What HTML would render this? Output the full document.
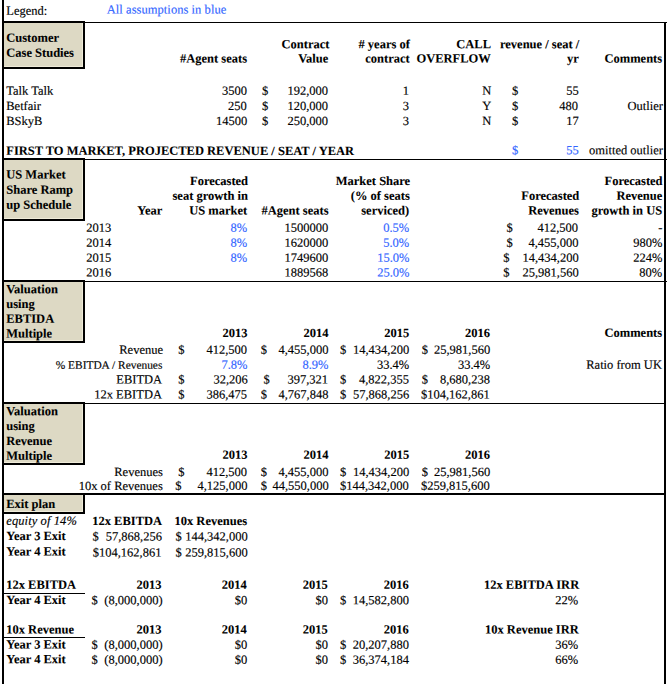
<!DOCTYPE html>
<html><head><meta charset="utf-8"><title>Valuation model</title>
<style>
html,body{margin:0;padding:0;background:#fff;}
body{width:667px;height:684px;position:relative;overflow:hidden;font-family:"Liberation Serif",serif;font-size:12.5px;line-height:15px;color:#000;}
.r{position:absolute;}
.t{position:absolute;white-space:pre;transform-origin:0 0;-webkit-text-stroke:0.15px currentColor;}
.b{font-weight:bold;-webkit-text-stroke-width:0.08px;}
.i{font-style:italic;}
.u{color:#3366ff;}
</style></head><body>
<div class="r" style="left:4px;top:23px;width:79px;height:44px;background:#ddd9c4"></div>
<div class="r" style="left:82px;top:23px;width:1px;height:44px;background:#efebd9"></div>
<div class="r" style="left:4px;top:66px;width:79px;height:1px;background:#efebd9"></div>
<div class="r" style="left:2px;top:21px;width:83px;height:2px;background:#000"></div>
<div class="r" style="left:2px;top:67px;width:83px;height:2px;background:#000"></div>
<div class="r" style="left:83px;top:21px;width:2px;height:48px;background:#000"></div>
<div class="r" style="left:4px;top:160px;width:79px;height:59px;background:#ddd9c4"></div>
<div class="r" style="left:82px;top:160px;width:1px;height:59px;background:#efebd9"></div>
<div class="r" style="left:4px;top:218px;width:79px;height:1px;background:#efebd9"></div>
<div class="r" style="left:2px;top:158px;width:83px;height:2px;background:#000"></div>
<div class="r" style="left:2px;top:219px;width:83px;height:2px;background:#000"></div>
<div class="r" style="left:83px;top:158px;width:2px;height:63px;background:#000"></div>
<div class="r" style="left:4px;top:282px;width:79px;height:59px;background:#ddd9c4"></div>
<div class="r" style="left:82px;top:282px;width:1px;height:59px;background:#efebd9"></div>
<div class="r" style="left:4px;top:340px;width:79px;height:1px;background:#efebd9"></div>
<div class="r" style="left:2px;top:280px;width:83px;height:2px;background:#000"></div>
<div class="r" style="left:2px;top:341px;width:83px;height:2px;background:#000"></div>
<div class="r" style="left:83px;top:280px;width:2px;height:63px;background:#000"></div>
<div class="r" style="left:4px;top:404px;width:79px;height:59px;background:#ddd9c4"></div>
<div class="r" style="left:82px;top:404px;width:1px;height:59px;background:#efebd9"></div>
<div class="r" style="left:4px;top:462px;width:79px;height:1px;background:#efebd9"></div>
<div class="r" style="left:2px;top:402px;width:83px;height:2px;background:#000"></div>
<div class="r" style="left:2px;top:463px;width:83px;height:2px;background:#000"></div>
<div class="r" style="left:83px;top:402px;width:2px;height:63px;background:#000"></div>
<div class="r" style="left:4px;top:495px;width:79px;height:17px;background:#ddd9c4"></div>
<div class="r" style="left:82px;top:495px;width:1px;height:17px;background:#efebd9"></div>
<div class="r" style="left:4px;top:511px;width:79px;height:1px;background:#efebd9"></div>
<div class="r" style="left:2px;top:493px;width:83px;height:2px;background:#000"></div>
<div class="r" style="left:2px;top:512px;width:83px;height:2px;background:#000"></div>
<div class="r" style="left:83px;top:493px;width:2px;height:21px;background:#000"></div>
<div class="r" style="left:2px;top:0px;width:2px;height:684px;background:#000"></div>
<div class="r" style="left:664px;top:22px;width:2px;height:662px;background:#000"></div>
<div class="r" style="left:2px;top:22px;width:665px;height:1px;background:#000"></div>
<div class="r" style="left:2px;top:159px;width:665px;height:1px;background:#000"></div>
<div class="r" style="left:2px;top:281px;width:665px;height:1px;background:#000"></div>
<div class="r" style="left:2px;top:403px;width:662px;height:1px;background:#000"></div>
<div class="r" style="left:2px;top:493px;width:664px;height:2px;background:#000"></div>
<div class="r" style="left:4px;top:593px;width:81px;height:1px;background:#000"></div>
<div class="r" style="left:4px;top:637px;width:81px;height:1px;background:#000"></div>
<div class="t" style="left:6px;top:3px;transform:translate(0.25px,0.75px) rotate(0.03deg);">Legend:</div>
<div class="t u" style="left:106px;top:2px;transform:translate(0.75px,0.5px) rotate(0.03deg);letter-spacing:0.05px;">All assumptions in blue</div>
<div class="t b" style="left:6px;top:30px;transform:translate(0.25px,0.75px) rotate(0.03deg);">Customer</div>
<div class="t b" style="left:6px;top:45px;transform:translate(0.25px,0.75px) rotate(0.03deg);">Case Studies</div>
<div class="t b" style="right:420px;top:51px;transform-origin:100% 0;transform:translate(0.0px,0.5px) rotate(0.03deg);">#Agent seats</div>
<div class="t b" style="right:338px;top:37px;transform-origin:100% 0;transform:translate(0.5px,0.25px) rotate(0.03deg);">Contract</div>
<div class="t b" style="right:339px;top:51px;transform-origin:100% 0;transform:translate(0.25px,0.5px) rotate(0.03deg);">Value</div>
<div class="t b" style="right:258px;top:37px;transform-origin:100% 0;transform:translate(0.5px,0.25px) rotate(0.03deg);"># years of</div>
<div class="t b" style="right:258px;top:51px;transform-origin:100% 0;transform:translate(0.25px,0.5px) rotate(0.03deg);">contract</div>
<div class="t b" style="right:176px;top:37px;transform-origin:100% 0;transform:translate(0.25px,0.25px) rotate(0.03deg);">CALL</div>
<div class="t b" style="right:177px;top:51px;transform-origin:100% 0;transform:translate(0.5px,0.5px) rotate(0.03deg);">OVERFLOW</div>
<div class="t b" style="right:88px;top:37px;transform-origin:100% 0;transform:translate(0.0px,0.25px) rotate(0.03deg);">revenue / seat /</div>
<div class="t b" style="right:88px;top:51px;transform-origin:100% 0;transform:translate(0.0px,0.5px) rotate(0.03deg);">yr</div>
<div class="t b" style="right:5px;top:51px;transform-origin:100% 0;transform:translate(0.5px,0.5px) rotate(0.03deg);">Comments</div>
<div class="t" style="left:6px;top:83px;transform:translate(0.25px,0.75px) rotate(0.03deg);">Talk Talk</div>
<div class="t" style="right:420px;top:83px;transform-origin:100% 0;transform:translate(0.0px,0.75px) rotate(0.03deg);">3500</div>
<div class="t" style="left:262px;top:83px;transform:translate(0.0px,0.75px) rotate(0.03deg);">$</div>
<div class="t" style="right:339px;top:83px;transform-origin:100% 0;transform:translate(0.5px,0.75px) rotate(0.03deg);">192,000</div>
<div class="t" style="right:259px;top:83px;transform-origin:100% 0;transform:translate(0.75px,0.75px) rotate(0.03deg);">1</div>
<div class="t" style="right:176px;top:83px;transform-origin:100% 0;transform:translate(0.25px,0.75px) rotate(0.03deg);">N</div>
<div class="t" style="left:512px;top:83px;transform:translate(0.0px,0.75px) rotate(0.03deg);">$</div>
<div class="t" style="right:89px;top:83px;transform-origin:100% 0;transform:translate(0.25px,0.75px) rotate(0.03deg);">55</div>
<div class="t" style="left:6px;top:98px;transform:translate(0.25px,1.0px) rotate(0.03deg);">Betfair</div>
<div class="t" style="right:420px;top:98px;transform-origin:100% 0;transform:translate(0.0px,1.0px) rotate(0.03deg);">250</div>
<div class="t" style="left:262px;top:98px;transform:translate(0.0px,1.0px) rotate(0.03deg);">$</div>
<div class="t" style="right:339px;top:98px;transform-origin:100% 0;transform:translate(0.5px,1.0px) rotate(0.03deg);">120,000</div>
<div class="t" style="right:259px;top:98px;transform-origin:100% 0;transform:translate(0.75px,1.0px) rotate(0.03deg);">3</div>
<div class="t" style="right:176px;top:98px;transform-origin:100% 0;transform:translate(0.25px,1.0px) rotate(0.03deg);">Y</div>
<div class="t" style="left:512px;top:98px;transform:translate(0.0px,1.0px) rotate(0.03deg);">$</div>
<div class="t" style="right:89px;top:98px;transform-origin:100% 0;transform:translate(0.25px,1.0px) rotate(0.03deg);">480</div>
<div class="t" style="left:6px;top:113px;transform:translate(0.25px,1.0px) rotate(0.03deg);">BSkyB</div>
<div class="t" style="right:420px;top:113px;transform-origin:100% 0;transform:translate(0.0px,1.0px) rotate(0.03deg);">14500</div>
<div class="t" style="left:262px;top:113px;transform:translate(0.0px,1.0px) rotate(0.03deg);">$</div>
<div class="t" style="right:339px;top:113px;transform-origin:100% 0;transform:translate(0.5px,1.0px) rotate(0.03deg);">250,000</div>
<div class="t" style="right:259px;top:113px;transform-origin:100% 0;transform:translate(0.75px,1.0px) rotate(0.03deg);">3</div>
<div class="t" style="right:176px;top:113px;transform-origin:100% 0;transform:translate(0.25px,1.0px) rotate(0.03deg);">N</div>
<div class="t" style="left:512px;top:113px;transform:translate(0.0px,1.0px) rotate(0.03deg);">$</div>
<div class="t" style="right:89px;top:113px;transform-origin:100% 0;transform:translate(0.25px,1.0px) rotate(0.03deg);">17</div>
<div class="t" style="right:5px;top:98px;transform-origin:100% 0;transform:translate(0.5px,1.0px) rotate(0.03deg);">Outlier</div>
<div class="t b" style="left:6px;top:143px;transform:translate(0.25px,0.75px) rotate(0.03deg);">FIRST TO MARKET, PROJECTED REVENUE / SEAT / YEAR</div>
<div class="t u" style="left:512px;top:143px;transform:translate(0.0px,0.25px) rotate(0.03deg);">$</div>
<div class="t u" style="right:89px;top:143px;transform-origin:100% 0;transform:translate(0.25px,0.25px) rotate(0.03deg);">55</div>
<div class="t" style="right:5px;top:143px;transform-origin:100% 0;transform:translate(1.0px,0.25px) rotate(0.03deg);">omitted outlier</div>
<div class="t b" style="left:6px;top:167px;transform:translate(0.25px,0.5px) rotate(0.03deg);">US Market</div>
<div class="t b" style="left:6px;top:182px;transform:translate(0.25px,0.75px) rotate(0.03deg);">Share Ramp</div>
<div class="t b" style="left:6px;top:197px;transform:translate(0.25px,0.75px) rotate(0.03deg);">up Schedule</div>
<div class="t b" style="right:505px;top:203px;transform-origin:100% 0;transform:translate(0.25px,0.5px) rotate(0.03deg);">Year</div>
<div class="t b" style="right:420px;top:173px;transform-origin:100% 0;transform:translate(1.0px,1.0px) rotate(0.03deg);">Forecasted</div>
<div class="t b" style="right:420px;top:188px;transform-origin:100% 0;transform:translate(0.5px,0.75px) rotate(0.03deg);">seat growth in</div>
<div class="t b" style="right:420px;top:203px;transform-origin:100% 0;transform:translate(0.25px,0.5px) rotate(0.03deg);">US market</div>
<div class="t b" style="right:339px;top:203px;transform-origin:100% 0;transform:translate(0.5px,0.5px) rotate(0.03deg);">#Agent seats</div>
<div class="t b" style="right:258px;top:173px;transform-origin:100% 0;transform:translate(0.75px,1.0px) rotate(0.03deg);">Market Share</div>
<div class="t b" style="right:258px;top:188px;transform-origin:100% 0;transform:translate(0.75px,0.75px) rotate(0.03deg);">(% of seats</div>
<div class="t b" style="right:258px;top:203px;transform-origin:100% 0;transform:translate(0.25px,0.5px) rotate(0.03deg);">serviced)</div>
<div class="t b" style="right:88px;top:188px;transform-origin:100% 0;transform:translate(0.25px,0.75px) rotate(0.03deg);">Forecasted</div>
<div class="t b" style="right:88px;top:203px;transform-origin:100% 0;transform:translate(0.25px,0.5px) rotate(0.03deg);">Revenues</div>
<div class="t b" style="right:5px;top:173px;transform-origin:100% 0;transform:translate(0.5px,1.0px) rotate(0.03deg);">Forecasted</div>
<div class="t b" style="right:5px;top:188px;transform-origin:100% 0;transform:translate(0.5px,0.75px) rotate(0.03deg);">Revenue</div>
<div class="t b" style="right:5px;top:203px;transform-origin:100% 0;transform:translate(0.5px,0.5px) rotate(0.03deg);">growth in US</div>
<div class="t" style="left:86px;top:220px;transform:translate(0.25px,0.75px) rotate(0.03deg);">2013</div>
<div class="t u" style="right:420px;top:220px;transform-origin:100% 0;transform:translate(0.5px,0.75px) rotate(0.03deg);">8%</div>
<div class="t" style="right:339px;top:220px;transform-origin:100% 0;transform:translate(0.5px,0.75px) rotate(0.03deg);">1500000</div>
<div class="t u" style="right:258px;top:220px;transform-origin:100% 0;transform:translate(0.25px,0.75px) rotate(0.03deg);">0.5%</div>
<div class="t" style="left:506px;top:220px;transform:translate(0.5px,0.75px) rotate(0.03deg);">$</div>
<div class="t" style="right:89px;top:220px;transform-origin:100% 0;transform:translate(0.5px,0.75px) rotate(0.03deg);">412,500</div>
<div class="t" style="right:5px;top:220px;transform-origin:100% 0;transform:translate(0.25px,0.75px) rotate(0.03deg);">-</div>
<div class="t" style="left:86px;top:235px;transform:translate(0.25px,0.75px) rotate(0.03deg);">2014</div>
<div class="t u" style="right:420px;top:235px;transform-origin:100% 0;transform:translate(0.5px,0.75px) rotate(0.03deg);">8%</div>
<div class="t" style="right:339px;top:235px;transform-origin:100% 0;transform:translate(0.5px,0.75px) rotate(0.03deg);">1620000</div>
<div class="t u" style="right:258px;top:235px;transform-origin:100% 0;transform:translate(0.25px,0.75px) rotate(0.03deg);">5.0%</div>
<div class="t" style="left:506px;top:235px;transform:translate(0.5px,0.75px) rotate(0.03deg);">$</div>
<div class="t" style="right:89px;top:235px;transform-origin:100% 0;transform:translate(0.5px,0.75px) rotate(0.03deg);">4,455,000</div>
<div class="t" style="right:5px;top:235px;transform-origin:100% 0;transform:translate(0.25px,0.75px) rotate(0.03deg);">980%</div>
<div class="t" style="left:86px;top:250px;transform:translate(0.25px,0.75px) rotate(0.03deg);">2015</div>
<div class="t u" style="right:420px;top:250px;transform-origin:100% 0;transform:translate(0.5px,0.75px) rotate(0.03deg);">8%</div>
<div class="t" style="right:339px;top:250px;transform-origin:100% 0;transform:translate(0.5px,0.75px) rotate(0.03deg);">1749600</div>
<div class="t u" style="right:258px;top:250px;transform-origin:100% 0;transform:translate(0.25px,0.75px) rotate(0.03deg);">15.0%</div>
<div class="t" style="left:503px;top:250px;transform:translate(0.25px,0.75px) rotate(0.03deg);">$</div>
<div class="t" style="right:89px;top:250px;transform-origin:100% 0;transform:translate(0.5px,0.75px) rotate(0.03deg);">14,434,200</div>
<div class="t" style="right:5px;top:250px;transform-origin:100% 0;transform:translate(0.25px,0.75px) rotate(0.03deg);">224%</div>
<div class="t" style="left:86px;top:265px;transform:translate(0.25px,0.5px) rotate(0.03deg);">2016</div>
<div class="t" style="right:339px;top:265px;transform-origin:100% 0;transform:translate(0.5px,0.5px) rotate(0.03deg);">1889568</div>
<div class="t u" style="right:258px;top:265px;transform-origin:100% 0;transform:translate(0.25px,0.5px) rotate(0.03deg);">25.0%</div>
<div class="t" style="left:503px;top:265px;transform:translate(0.25px,0.5px) rotate(0.03deg);">$</div>
<div class="t" style="right:89px;top:265px;transform-origin:100% 0;transform:translate(0.5px,0.5px) rotate(0.03deg);">25,981,560</div>
<div class="t" style="right:5px;top:265px;transform-origin:100% 0;transform:translate(0.25px,0.5px) rotate(0.03deg);">80%</div>
<div class="t b" style="left:6px;top:282px;transform:translate(0.25px,0.25px) rotate(0.03deg);">Valuation</div>
<div class="t b" style="left:6px;top:297px;transform:translate(0.25px,0.0px) rotate(0.03deg);">using</div>
<div class="t b" style="left:6px;top:311px;transform:translate(0.25px,0.75px) rotate(0.03deg);">EBTIDA</div>
<div class="t b" style="left:6px;top:326px;transform:translate(0.25px,0.5px) rotate(0.03deg);">Multiple</div>
<div class="t b" style="right:420px;top:325px;transform-origin:100% 0;transform:translate(0.5px,1.0px) rotate(0.03deg);">2013</div>
<div class="t b" style="right:339px;top:325px;transform-origin:100% 0;transform:translate(0.5px,1.0px) rotate(0.03deg);">2014</div>
<div class="t b" style="right:258px;top:325px;transform-origin:100% 0;transform:translate(0.25px,1.0px) rotate(0.03deg);">2015</div>
<div class="t b" style="right:178px;top:325px;transform-origin:100% 0;transform:translate(1.0px,1.0px) rotate(0.03deg);">2016</div>
<div class="t b" style="right:5px;top:325px;transform-origin:100% 0;transform:translate(0.5px,0.75px) rotate(0.03deg);">Comments</div>
<div class="t" style="right:504px;top:342px;transform-origin:100% 0;transform:translate(0.25px,0.75px) rotate(0.03deg);">Revenue</div>
<div class="t" style="left:178px;top:342px;transform:translate(0.25px,0.75px) rotate(0.03deg);">$</div>
<div class="t" style="right:420px;top:342px;transform-origin:100% 0;transform:translate(0.5px,0.75px) rotate(0.03deg);">412,500</div>
<div class="t" style="left:260px;top:342px;transform:translate(0.75px,0.75px) rotate(0.03deg);">$</div>
<div class="t" style="right:339px;top:342px;transform-origin:100% 0;transform:translate(0.5px,0.75px) rotate(0.03deg);">4,455,000</div>
<div class="t" style="left:340px;top:342px;transform:translate(0.0px,0.75px) rotate(0.03deg);">$</div>
<div class="t" style="right:258px;top:342px;transform-origin:100% 0;transform:translate(0.0px,0.75px) rotate(0.03deg);">14,434,200</div>
<div class="t" style="left:421px;top:342px;transform:translate(0.75px,0.75px) rotate(0.03deg);">$</div>
<div class="t" style="right:178px;top:342px;transform-origin:100% 0;transform:translate(1.0px,0.75px) rotate(0.03deg);">25,981,560</div>
<div class="t" style="right:505px;top:357px;transform-origin:100% 0;transform:translate(0.75px,0.75px) rotate(0.03deg);font-size:11.4px;">% EBITDA / Revenues</div>
<div class="t u" style="right:420px;top:357px;transform-origin:100% 0;transform:translate(0.5px,0.75px) rotate(0.03deg);">7.8%</div>
<div class="t u" style="right:339px;top:357px;transform-origin:100% 0;transform:translate(0.5px,0.75px) rotate(0.03deg);">8.9%</div>
<div class="t" style="right:258px;top:357px;transform-origin:100% 0;transform:translate(0.0px,0.75px) rotate(0.03deg);">33.4%</div>
<div class="t" style="right:178px;top:357px;transform-origin:100% 0;transform:translate(1.0px,0.75px) rotate(0.03deg);">33.4%</div>
<div class="t" style="right:5px;top:357px;transform-origin:100% 0;transform:translate(0.25px,0.75px) rotate(0.03deg);">Ratio from UK</div>
<div class="t" style="right:505px;top:372px;transform-origin:100% 0;transform:translate(0.25px,0.5px) rotate(0.03deg);">EBITDA</div>
<div class="t" style="left:178px;top:372px;transform:translate(0.25px,0.5px) rotate(0.03deg);">$</div>
<div class="t" style="right:420px;top:372px;transform-origin:100% 0;transform:translate(0.5px,0.5px) rotate(0.03deg);">32,206</div>
<div class="t" style="left:263px;top:372px;transform:translate(0.5px,0.5px) rotate(0.03deg);">$</div>
<div class="t" style="right:339px;top:372px;transform-origin:100% 0;transform:translate(0.5px,0.5px) rotate(0.03deg);">397,321</div>
<div class="t" style="left:340px;top:372px;transform:translate(0.0px,0.5px) rotate(0.03deg);">$</div>
<div class="t" style="right:258px;top:372px;transform-origin:100% 0;transform:translate(0.0px,0.5px) rotate(0.03deg);">4,822,355</div>
<div class="t" style="left:421px;top:372px;transform:translate(0.75px,0.5px) rotate(0.03deg);">$</div>
<div class="t" style="right:178px;top:372px;transform-origin:100% 0;transform:translate(1.0px,0.5px) rotate(0.03deg);">8,680,238</div>
<div class="t" style="right:505px;top:387px;transform-origin:100% 0;transform:translate(0.25px,0.5px) rotate(0.03deg);">12x EBITDA</div>
<div class="t" style="left:178px;top:387px;transform:translate(0.25px,0.5px) rotate(0.03deg);">$</div>
<div class="t" style="right:420px;top:387px;transform-origin:100% 0;transform:translate(0.5px,0.5px) rotate(0.03deg);">386,475</div>
<div class="t" style="left:260px;top:387px;transform:translate(0.75px,0.5px) rotate(0.03deg);">$</div>
<div class="t" style="right:339px;top:387px;transform-origin:100% 0;transform:translate(0.5px,0.5px) rotate(0.03deg);">4,767,848</div>
<div class="t" style="left:340px;top:387px;transform:translate(0.0px,0.5px) rotate(0.03deg);">$</div>
<div class="t" style="right:258px;top:387px;transform-origin:100% 0;transform:translate(0.0px,0.5px) rotate(0.03deg);">57,868,256</div>
<div class="t" style="right:178px;top:387px;transform-origin:100% 0;transform:translate(1.0px,0.5px) rotate(0.03deg);">$104,162,861</div>
<div class="t b" style="left:6px;top:404px;transform:translate(0.25px,0.25px) rotate(0.03deg);">Valuation</div>
<div class="t b" style="left:6px;top:418px;transform:translate(0.25px,1.0px) rotate(0.03deg);">using</div>
<div class="t b" style="left:6px;top:434px;transform:translate(0.25px,0.0px) rotate(0.03deg);">Revenue</div>
<div class="t b" style="left:6px;top:448px;transform:translate(0.25px,0.75px) rotate(0.03deg);">Multiple</div>
<div class="t b" style="right:420px;top:447px;transform-origin:100% 0;transform:translate(0.5px,0.75px) rotate(0.03deg);">2013</div>
<div class="t b" style="right:339px;top:447px;transform-origin:100% 0;transform:translate(0.5px,0.75px) rotate(0.03deg);">2014</div>
<div class="t b" style="right:258px;top:447px;transform-origin:100% 0;transform:translate(0.25px,0.75px) rotate(0.03deg);">2015</div>
<div class="t b" style="right:178px;top:447px;transform-origin:100% 0;transform:translate(1.0px,0.75px) rotate(0.03deg);">2016</div>
<div class="t" style="right:504px;top:465px;transform-origin:100% 0;transform:translate(0.25px,0.0px) rotate(0.03deg);">Revenues</div>
<div class="t" style="left:178px;top:465px;transform:translate(0.25px,0.0px) rotate(0.03deg);">$</div>
<div class="t" style="right:420px;top:465px;transform-origin:100% 0;transform:translate(0.5px,0.0px) rotate(0.03deg);">412,500</div>
<div class="t" style="left:260px;top:465px;transform:translate(0.75px,0.0px) rotate(0.03deg);">$</div>
<div class="t" style="right:339px;top:465px;transform-origin:100% 0;transform:translate(0.5px,0.0px) rotate(0.03deg);">4,455,000</div>
<div class="t" style="left:340px;top:465px;transform:translate(0.0px,0.0px) rotate(0.03deg);">$</div>
<div class="t" style="right:258px;top:465px;transform-origin:100% 0;transform:translate(0.0px,0.0px) rotate(0.03deg);">14,434,200</div>
<div class="t" style="left:421px;top:465px;transform:translate(0.75px,0.0px) rotate(0.03deg);">$</div>
<div class="t" style="right:178px;top:465px;transform-origin:100% 0;transform:translate(1.0px,0.0px) rotate(0.03deg);">25,981,560</div>
<div class="t" style="right:505px;top:479px;transform-origin:100% 0;transform:translate(0.75px,0.0px) rotate(0.03deg);">10x of Revenues</div>
<div class="t" style="left:175px;top:478px;transform:translate(0.25px,0.75px) rotate(0.03deg);">$</div>
<div class="t" style="right:420px;top:478px;transform-origin:100% 0;transform:translate(0.5px,0.75px) rotate(0.03deg);">4,125,000</div>
<div class="t" style="left:260px;top:478px;transform:translate(0.75px,0.75px) rotate(0.03deg);">$</div>
<div class="t" style="right:339px;top:478px;transform-origin:100% 0;transform:translate(0.5px,0.75px) rotate(0.03deg);">44,550,000</div>
<div class="t" style="right:258px;top:478px;transform-origin:100% 0;transform:translate(0.0px,0.75px) rotate(0.03deg);">$144,342,000</div>
<div class="t" style="right:178px;top:478px;transform-origin:100% 0;transform:translate(1.0px,0.75px) rotate(0.03deg);">$259,815,600</div>
<div class="t b" style="left:6px;top:496px;transform:translate(0.25px,1.0px) rotate(0.03deg);">Exit plan</div>
<div class="t i" style="left:6px;top:513px;transform:translate(0.25px,0.75px) rotate(0.03deg);letter-spacing:0.1px;">equity of 14%</div>
<div class="t b" style="right:505px;top:513px;transform-origin:100% 0;transform:translate(0.25px,1.0px) rotate(0.03deg);">12x EBITDA</div>
<div class="t b" style="right:420px;top:513px;transform-origin:100% 0;transform:translate(0.5px,1.0px) rotate(0.03deg);">10x Revenues</div>
<div class="t b" style="left:6px;top:529px;transform:translate(0.25px,0.0px) rotate(0.03deg);">Year 3 Exit</div>
<div class="t" style="left:92px;top:529px;transform:translate(0.5px,0.5px) rotate(0.03deg);">$</div>
<div class="t" style="right:506px;top:529px;transform-origin:100% 0;transform:translate(0.75px,0.5px) rotate(0.03deg);">57,868,256</div>
<div class="t" style="left:175px;top:529px;transform:translate(0.5px,0.5px) rotate(0.03deg);">$</div>
<div class="t" style="right:420px;top:529px;transform-origin:100% 0;transform:translate(0.25px,0.5px) rotate(0.03deg);">144,342,000</div>
<div class="t b" style="left:6px;top:544px;transform:translate(0.25px,0.5px) rotate(0.03deg);">Year 4 Exit</div>
<div class="t" style="right:506px;top:545px;transform-origin:100% 0;transform:translate(0.75px,0.5px) rotate(0.03deg);">$104,162,861</div>
<div class="t" style="left:175px;top:545px;transform:translate(0.5px,0.5px) rotate(0.03deg);">$</div>
<div class="t" style="right:420px;top:545px;transform-origin:100% 0;transform:translate(0.25px,0.5px) rotate(0.03deg);">259,815,600</div>
<div class="t b" style="left:6px;top:577px;transform:translate(0.25px,0.75px) rotate(0.03deg);">12x EBITDA</div>
<div class="t b" style="right:506px;top:577px;transform-origin:100% 0;transform:translate(0.5px,0.75px) rotate(0.03deg);">2013</div>
<div class="t b" style="right:421px;top:577px;transform-origin:100% 0;transform:translate(0.75px,0.75px) rotate(0.03deg);">2014</div>
<div class="t b" style="right:340px;top:577px;transform-origin:100% 0;transform:translate(0.75px,0.75px) rotate(0.03deg);">2015</div>
<div class="t b" style="right:259px;top:577px;transform-origin:100% 0;transform:translate(0.75px,0.75px) rotate(0.03deg);">2016</div>
<div class="t b" style="right:88px;top:577px;transform-origin:100% 0;transform:translate(0.0px,0.75px) rotate(0.03deg);">12x EBITDA IRR</div>
<div class="t b" style="left:6px;top:592px;transform:translate(0.25px,1.0px) rotate(0.03deg);">Year 4 Exit</div>
<div class="t" style="left:91px;top:593px;transform:translate(0.5px,0.25px) rotate(0.03deg);">$</div>
<div class="t" style="right:505px;top:593px;transform-origin:100% 0;transform:translate(0.25px,0.25px) rotate(0.03deg);">(8,000,000)</div>
<div class="t" style="right:421px;top:593px;transform-origin:100% 0;transform:translate(0.75px,0.25px) rotate(0.03deg);">$0</div>
<div class="t" style="right:340px;top:593px;transform-origin:100% 0;transform:translate(0.5px,0.25px) rotate(0.03deg);">$0</div>
<div class="t" style="left:339px;top:593px;transform:translate(1.0px,0.25px) rotate(0.03deg);">$</div>
<div class="t" style="right:259px;top:593px;transform-origin:100% 0;transform:translate(0.75px,0.25px) rotate(0.03deg);">14,582,800</div>
<div class="t" style="right:89px;top:593px;transform-origin:100% 0;transform:translate(0.25px,0.25px) rotate(0.03deg);">22%</div>
<div class="t b" style="left:6px;top:622px;transform:translate(0.25px,0.5px) rotate(0.03deg);">10x Revenue</div>
<div class="t b" style="right:506px;top:622px;transform-origin:100% 0;transform:translate(0.5px,0.5px) rotate(0.03deg);">2013</div>
<div class="t b" style="right:421px;top:622px;transform-origin:100% 0;transform:translate(0.75px,0.5px) rotate(0.03deg);">2014</div>
<div class="t b" style="right:340px;top:622px;transform-origin:100% 0;transform:translate(0.75px,0.5px) rotate(0.03deg);">2015</div>
<div class="t b" style="right:259px;top:622px;transform-origin:100% 0;transform:translate(0.75px,0.5px) rotate(0.03deg);">2016</div>
<div class="t b" style="right:88px;top:622px;transform-origin:100% 0;transform:translate(0.0px,0.5px) rotate(0.03deg);">10x Revenue IRR</div>
<div class="t b" style="left:6px;top:637px;transform:translate(0.25px,0.5px) rotate(0.03deg);">Year 3 Exit</div>
<div class="t" style="left:91px;top:637px;transform:translate(0.5px,0.75px) rotate(0.03deg);">$</div>
<div class="t" style="right:505px;top:637px;transform-origin:100% 0;transform:translate(0.25px,0.75px) rotate(0.03deg);">(8,000,000)</div>
<div class="t" style="right:421px;top:637px;transform-origin:100% 0;transform:translate(0.75px,0.75px) rotate(0.03deg);">$0</div>
<div class="t" style="right:340px;top:637px;transform-origin:100% 0;transform:translate(0.5px,0.75px) rotate(0.03deg);">$0</div>
<div class="t" style="left:339px;top:637px;transform:translate(1.0px,0.75px) rotate(0.03deg);">$</div>
<div class="t" style="right:259px;top:637px;transform-origin:100% 0;transform:translate(0.75px,0.75px) rotate(0.03deg);">20,207,880</div>
<div class="t" style="right:89px;top:637px;transform-origin:100% 0;transform:translate(0.25px,0.75px) rotate(0.03deg);">36%</div>
<div class="t b" style="left:6px;top:652px;transform:translate(0.25px,0.25px) rotate(0.03deg);">Year 4 Exit</div>
<div class="t" style="left:91px;top:652px;transform:translate(0.5px,0.75px) rotate(0.03deg);">$</div>
<div class="t" style="right:505px;top:652px;transform-origin:100% 0;transform:translate(0.25px,0.75px) rotate(0.03deg);">(8,000,000)</div>
<div class="t" style="right:421px;top:652px;transform-origin:100% 0;transform:translate(0.75px,0.75px) rotate(0.03deg);">$0</div>
<div class="t" style="right:340px;top:652px;transform-origin:100% 0;transform:translate(0.5px,0.75px) rotate(0.03deg);">$0</div>
<div class="t" style="left:339px;top:652px;transform:translate(1.0px,0.75px) rotate(0.03deg);">$</div>
<div class="t" style="right:259px;top:652px;transform-origin:100% 0;transform:translate(0.75px,0.75px) rotate(0.03deg);">36,374,184</div>
<div class="t" style="right:89px;top:652px;transform-origin:100% 0;transform:translate(0.25px,0.75px) rotate(0.03deg);">66%</div>
</body></html>
